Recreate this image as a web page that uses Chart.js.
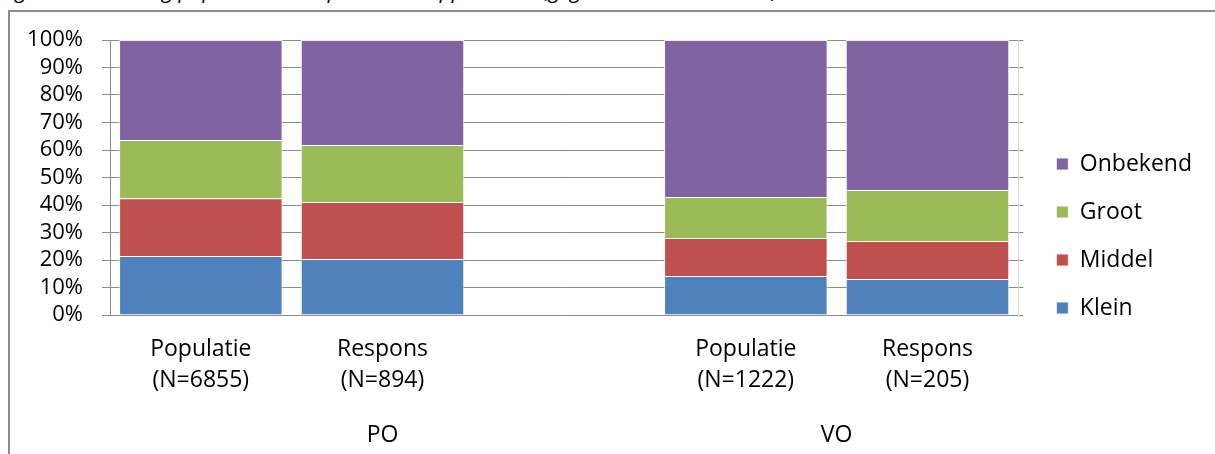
<!DOCTYPE html>
<html>
<head>
<meta charset="utf-8">
<script src="https://cdn.jsdelivr.net/npm/chart.js@4.4.0/dist/chart.umd.min.js"></script>
<style>
  html, body { margin: 0; padding: 0; background: #fff; overflow: hidden; }
  #wrap { position: relative; width: 1215px; height: 454px; overflow: hidden; }
  #frame { position: absolute; left: 8px; top: 10px; width: 1400px; height: 700px;
           border: 2px solid #8c8c8c; box-sizing: border-box; }
  #title { position: absolute; left: 0px; top: -21px; font: italic 21px 'Open Sans';
           line-height: 22px; white-space: nowrap; color: #000; }
  canvas { position: absolute; left: 0; top: 0; }
</style>
</head>
<body>
<div id="wrap">
  <div id="title">Figuur 1. Verdeling populatie en respons naar oppervlakte (gegevens Kadaster 2010)</div>
  <div id="frame"></div>
  <canvas id="chart" width="1215" height="454"></canvas>
</div>
<script>
// categories (empty slot keeps the gap between PO and VO)
const categories = [
  ['Populatie', '(N=6855)'],
  ['Respons', '(N=894)'],
  '',
  ['Populatie', '(N=1222)'],
  ['Respons', '(N=205)']
];
const groupOf = ['PO', 'PO', 'PO', 'VO', 'VO'];

// percentages per size class
const klein    = [21.5, 20.4, null, 14.2, 13.1];
const middel   = [21.0, 20.7, null, 13.8, 13.8];
const groot    = [21.1, 20.7, null, 14.9, 18.6];
const onbekend = [36.4, 38.2, null, 57.1, 54.5];

const seriesNames = ['Klein', 'Middel', 'Groot', 'Onbekend'];
const colors = ['#4f81bd', '#c0504d', '#9bbb59', '#8064a2'];

const FONT = "'Open Sans'";
const GRID = '#8c8c8c';

const groupLabels = {
  id: 'groupLabels',
  afterDraw(chart) {
    const x = chart.scales.x;
    const ctx = chart.ctx;
    ctx.save();
    ctx.font = '23px ' + FONT;
    ctx.fillStyle = '#000';
    ctx.textAlign = 'center';
    ctx.textBaseline = 'middle';
    [...new Set(groupOf)].forEach(g => {
      const idx = groupOf.map((v, i) => v === g ? i : -1).filter(i => i >= 0);
      const cx = (x.getPixelForValue(idx[0]) + x.getPixelForValue(idx[idx.length - 1])) / 2;
      ctx.fillText(g, cx, chart.chartArea.bottom + 120);
    });
    ctx.restore();
  }
};

const ctx = document.getElementById('chart').getContext('2d');
new Chart(ctx, {
  type: 'bar',
  data: {
    labels: categories,
    datasets: [klein, middel, groot, onbekend].map((d, i) => ({
      label: seriesNames[i],
      data: d,
      backgroundColor: colors[i],
      borderColor: 'rgba(255,255,255,0.85)',
      borderWidth: 1,
      barPercentage: 0.9,
      categoryPercentage: 1.0
    }))
  },
  options: {
    responsive: false,
    animation: false,
    layout: { padding: { top: 40, bottom: 22, left: 0, right: 13 } },
    plugins: {
      legend: {
        position: 'right',
        reverse: true,
        labels: {
          boxWidth: 12,
          boxHeight: 12,
          padding: 25,
          color: '#000',
          font: { family: FONT, size: 23 }
        }
      },
      tooltip: { enabled: false }
    },
    scales: {
      x: {
        stacked: true,
        grid: { display: false, drawTicks: false },
        border: { display: true, color: GRID },
        ticks: {
          color: '#000',
          padding: 19,
          maxRotation: 0,
          autoSkip: false,
          font: { family: FONT, size: 23, lineHeight: 1.35 }
        },
        afterFit(scale) { scale.height = 117; }
      },
      y: {
        stacked: true,
        min: 0,
        max: 100,
        grid: { color: GRID, tickLength: 8 },
        border: { display: true, color: GRID },
        ticks: {
          stepSize: 10,
          autoSkip: false,
          padding: 19,
          color: '#000',
          font: { family: FONT, size: 22 },
          callback: v => v + '%'
        },
        afterFit(scale) { scale.width = 110; }
      },
      y2: {
        position: 'right',
        min: 0,
        max: 100,
        grid: { drawOnChartArea: false, color: GRID, tickLength: 5 },
        border: { display: true, color: '#d9d9d9' },
        ticks: { stepSize: 10, autoSkip: false, display: false },
        afterFit(scale) { scale.width = 13; }
      }
    }
  },
  plugins: [groupLabels]
});
</script>
</body>
</html>
